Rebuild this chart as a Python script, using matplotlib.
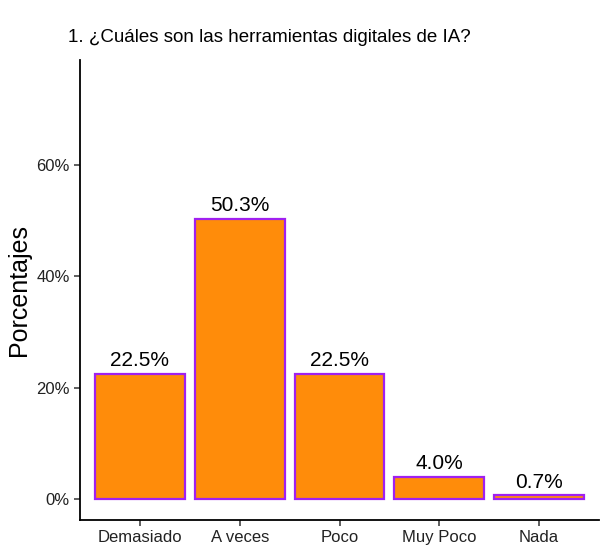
import matplotlib.pyplot as plt
from matplotlib.ticker import FuncFormatter

categorias = ["Demasiado", "A veces", "Poco", "Muy Poco", "Nada"]
porcentajes = [22.5, 50.3, 22.5, 4.0, 0.7]
yticks = [0, 20, 40, 60]

plt.rcParams["font.family"] = ["Liberation Sans", "DejaVu Sans"]

fig = plt.figure(figsize=(6.01, 5.52), dpi=100)
ax = fig.add_axes([80 / 601, 32 / 552, 519 / 601, 460 / 552])

x = list(range(1, len(categorias) + 1))
ax.bar(x, porcentajes, width=0.9, color="#FF8C0A", edgecolor="#A020F0", linewidth=1.6)
for xi, v in zip(x, porcentajes):
    ax.text(xi, v + 0.6, f"{v:.1f}%", ha="center", va="bottom", fontsize=15, color="black")

ax.set_xlim(0.4, 5.6)
ax.set_ylim(-3.75, 78.75)
ax.set_xticks(x)
ax.set_xticklabels(categorias, fontsize=12)
ax.set_yticks(yticks)
ax.yaxis.set_major_formatter(FuncFormatter(lambda v, p: f"{v:.0f}%"))
ax.tick_params(axis="y", labelsize=12, length=4, width=1.1, colors="#333333", labelcolor="#222222")
ax.tick_params(axis="x", length=4, width=1.1, colors="#333333", labelcolor="#222222")

for s in ["top", "right"]:
    ax.spines[s].set_visible(False)
for s in ["left", "bottom"]:
    ax.spines[s].set_linewidth(1.3)

ax.set_ylabel("Porcentajes", fontsize=18, labelpad=4)
fig.text(68 / 601, 1 - 37 / 552, "1. ¿Cuáles son las herramientas digitales de IA?",
         fontsize=13.5, va="center", ha="left")

fig.savefig("out.png", dpi=100)
